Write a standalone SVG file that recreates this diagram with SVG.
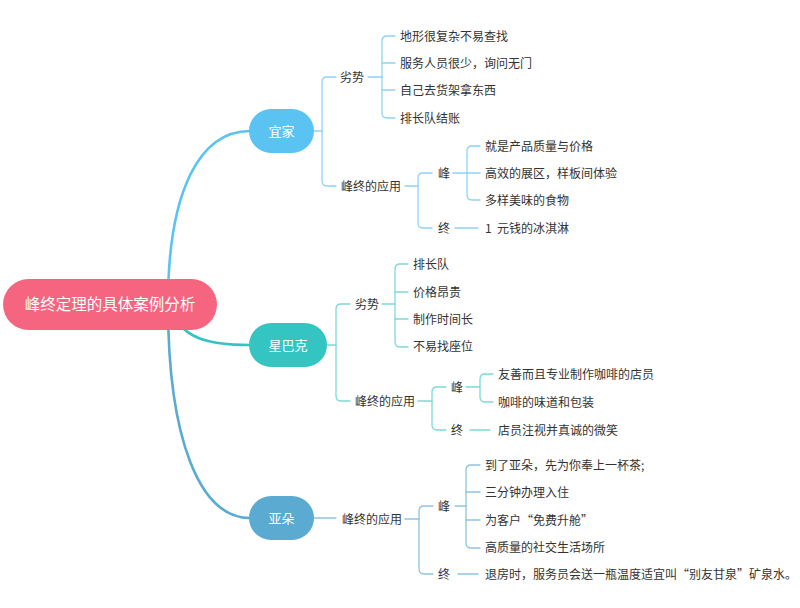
<svg xmlns="http://www.w3.org/2000/svg" width="800" height="608" viewBox="0 0 800 608">
<style>
text{font-family:"Noto Sans CJK SC","Liberation Sans",sans-serif;}
.t{font-size:12px;fill:#333;white-space:pre;}
.n{font-size:13px;fill:#fff;text-anchor:middle;}
.r{font-size:15.5px;fill:#fff;text-anchor:middle;}
.c{fill:none;stroke-linecap:round;}
.m{stroke-width:2.6;}
.s{stroke-width:1.3;}
.b1{stroke:#8ED4F4;}
.b2{stroke:#7FD8D6;}
.b3{stroke:#8EC4E2;}
</style>
<rect width="800" height="608" fill="#fff"/>
<g id="connectors">
<path class="c m" stroke="#5BC3F2" d="M168 304 C168 190 200 131 250 131"/>
<path class="c m" stroke="#34C5C3" d="M168 304 C180 340 210 345 250 345"/>
<path class="c m" stroke="#5AAAD2" d="M168 304 C168 440 200 518 250 518"/>
<g class="c s b1">
<path d="M314 131 H322"/>
<path d="M336 77 H327 Q322 77 322 82 V181 Q322 186 327 186 H336"/>
<path d="M368 77 H382"/>
<path d="M395 36 H387 Q382 36 382 41 V113 Q382 118 387 118 H395"/>
<path d="M382 63 H395 M382 90 H395"/>
<path d="M405 186 H418"/>
<path d="M432 173 H423 Q418 173 418 178 V223 Q418 228 423 228 H432"/>
<path d="M453 173 H467"/>
<path d="M480 146 H472 Q467 146 467 151 V195 Q467 200 472 200 H480"/>
<path d="M467 173 H480"/>
<path d="M455 228 H478"/>
</g>
<g class="c s b2">
<path d="M327 345 H336"/>
<path d="M350 304 H341 Q336 304 336 309 V396 Q336 401 341 401 H350"/>
<path d="M382 304 H395"/>
<path d="M408 264 H400 Q395 264 395 269 V342 Q395 347 400 347 H408"/>
<path d="M395 292 H408 M395 319 H408"/>
<path d="M418 401 H432"/>
<path d="M446 387 H437 Q432 387 432 392 V425 Q432 430 437 430 H446"/>
<path d="M466 387 H480"/>
<path d="M493 374 H485 Q480 374 480 379 V397 Q480 402 485 402 H493"/>
<path d="M470 430 H490"/>
</g>
<g class="c s b3">
<path d="M314 518 H336"/>
<path d="M405 519 H419"/>
<path d="M433 506 H424 Q419 506 419 511 V569 Q419 574 424 574 H433"/>
<path d="M455 506 H466"/>
<path d="M480 465 H471 Q466 465 466 470 V543 Q466 548 471 548 H480"/>
<path d="M466 492 H480 M466 520 H480"/>
<path d="M458 574 H478"/>
</g>
</g>
<g id="root">
<rect x="3" y="279" width="214" height="51" rx="25.5" fill="#F5657F"/>
<text class="r" x="110" y="310">峰终定理的具体案例分析</text>
</g>
<g id="yijia">
<rect x="249" y="109" width="65" height="44" rx="22" fill="#5BC3F2"/>
<text class="n" x="281.5" y="136">宜家</text>
</g>
<g id="yijia-items">
<text class="t" x="340" y="82">劣势</text>
<text class="t" x="400" y="41">地形很复杂不易查找</text>
<text class="t" x="400" y="68">服务人员很少，询问无门</text>
<text class="t" x="400" y="95">自己去货架拿东西</text>
<text class="t" x="400" y="123">排长队结账</text>
<text class="t" x="341" y="191">峰终的应用</text>
<text class="t" x="438" y="178">峰</text>
<text class="t" x="485" y="151">就是产品质量与价格</text>
<text class="t" x="485" y="178">高效的展区，样板间体验</text>
<text class="t" x="485" y="205">多样美味的食物</text>
<text class="t" x="438" y="233">终</text>
<text class="t" x="485" y="233">1  元钱的冰淇淋</text>
</g>
<g id="starbucks">
<rect x="249" y="323" width="78" height="44" rx="22" fill="#34C5C3"/>
<text class="n" x="288" y="350">星巴克</text>
</g>
<g id="starbucks-items">
<text class="t" x="355" y="309">劣势</text>
<text class="t" x="413" y="269">排长队</text>
<text class="t" x="413" y="297">价格昂贵</text>
<text class="t" x="413" y="324">制作时间长</text>
<text class="t" x="413" y="351">不易找座位</text>
<text class="t" x="355" y="406">峰终的应用</text>
<text class="t" x="451" y="392">峰</text>
<text class="t" x="498" y="379">友善而且专业制作咖啡的店员</text>
<text class="t" x="498" y="407">咖啡的味道和包装</text>
<text class="t" x="451" y="435">终</text>
<text class="t" x="498" y="435">店员注视并真诚的微笑</text>
</g>
<g id="yaduo">
<rect x="249" y="496" width="65" height="44" rx="22" fill="#5AAAD2"/>
<text class="n" x="281.5" y="523">亚朵</text>
</g>
<g id="yaduo-items">
<text class="t" x="342" y="524">峰终的应用</text>
<text class="t" x="438" y="511">峰</text>
<text class="t" x="485" y="470">到了亚朵，先为你奉上一杯茶;</text>
<text class="t" x="485" y="497">三分钟办理入住</text>
<text class="t" x="485" y="525">为客户“免费升舱”</text>
<text class="t" x="485" y="552">高质量的社交生活场所</text>
<text class="t" x="438" y="579">终</text>
<text class="t" x="485" y="579">退房时，服务员会送一瓶温度适宜叫“别友甘泉”矿泉水。</text>
</g>
</svg>
